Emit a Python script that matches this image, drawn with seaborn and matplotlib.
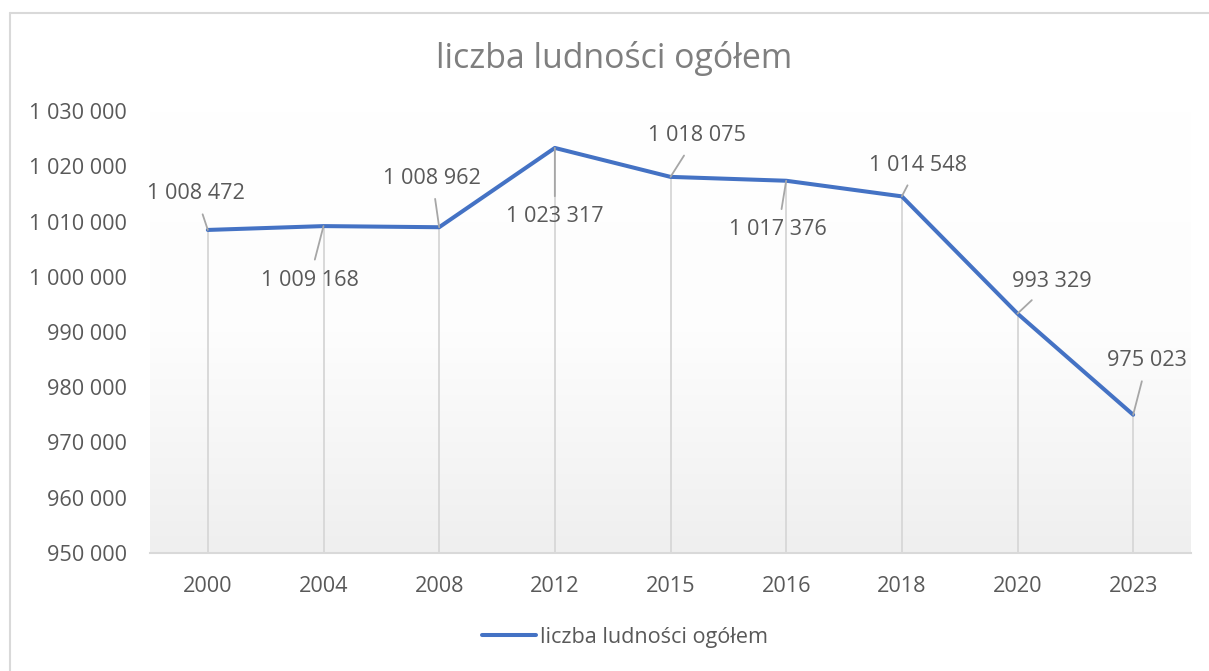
import numpy as np
import pandas as pd
import matplotlib
matplotlib.use("Agg")
import matplotlib.pyplot as plt
from matplotlib.lines import Line2D
from matplotlib.colors import LinearSegmentedColormap
import seaborn as sns

# ---- data ----
years = ["2000", "2004", "2008", "2012", "2015", "2016", "2018", "2020", "2023"]
population = [1008472, 1009168, 1008962, 1023317, 1018075, 1017376, 1014548, 993329, 975023]
series_name = "liczba ludności ogółem"
title = "liczba ludności ogółem"
y_ticks = [950000, 960000, 970000, 980000, 990000, 1000000, 1010000, 1020000, 1030000]

# label offsets in pixels (dx, dy up-positive)
label_offsets = [(-12, 36), (-14, -54), (-7, 49), (0, -69), (26, 41),
                 (-8, -49), (16, 31), (34, 32), (14, 54)]

sns.set_theme(style="white")
FONT = ["Open Sans", "DejaVu Sans"]
plt.rcParams["font.family"] = FONT

W, H, DPI = 1209, 671, 100
fig = plt.figure(figsize=(W / DPI, H / DPI), dpi=DPI)
fig.patch.set_facecolor("white")

ax_left, ax_right, ax_top, ax_bottom = 150, 1191, 111, 553
ax = fig.add_axes([ax_left / W, 1 - ax_bottom / H, (ax_right - ax_left) / W, (ax_bottom - ax_top) / H])

df = pd.DataFrame({"year": years, "value": population})

# gradient background (white at top -> light gray at bottom)
cmap = LinearSegmentedColormap.from_list("bg", ["#ffffff", "#fdfdfd", "#efefef"], N=256)
grad = np.linspace(0, 1, 256).reshape(-1, 1)
ax.imshow(grad, cmap=cmap, aspect="auto", extent=[0, 1, 0, 1], origin="upper",
          transform=ax.transAxes, zorder=0)

# drop lines
xs = np.arange(len(years))
ax.vlines(xs, y_ticks[0], population, colors="#d9d9d9", linewidth=1.4, zorder=1)

sns.lineplot(data=df, x="year", y="value", ax=ax, color="#4472C4",
             linewidth=2.9, label=series_name, zorder=3, sort=False)

ax.set_xlim(-0.5, len(years) - 0.5)
ax.set_ylim(y_ticks[0], y_ticks[-1])
ax.set_yticks(y_ticks)
ax.set_yticklabels([f"{v:,}".replace(",", " ") for v in y_ticks])
ax.set_xticks(xs)
ax.set_xticklabels(years)
ax.set_xlabel("")
ax.set_ylabel("")
ax.tick_params(axis="y", length=0, pad=16.5, labelsize=15.6, labelcolor="#595959")
ax.tick_params(axis="x", length=0, pad=16.5, labelsize=15.6, labelcolor="#595959")
for s in ["top", "right", "left"]:
    ax.spines[s].set_visible(False)
ax.spines["bottom"].set_color("#d9d9d9")
ax.spines["bottom"].set_linewidth(1.5)
ax.spines["bottom"].set_zorder(2)
ax.grid(False)

# data labels
px2pt = 72 / DPI
for x, v, (dx, dy) in zip(xs, population, label_offsets):
    ax.annotate(f"{v:,}".replace(",", " "), xy=(x, v),
                xytext=(dx * px2pt, dy * px2pt), textcoords="offset points",
                ha="center", va="center", fontsize=15.6, color="#595959",
                arrowprops=dict(arrowstyle="-", color="#a6a6a6", lw=1.3,
                                shrinkA=5, shrinkB=0), zorder=4)

# title
fig.text(614 / W, 1 - 58 / H, title, ha="center", va="center",
         fontsize=24.4, color="#7f7f7f")

# legend
leg = ax.legend(loc="center", bbox_to_anchor=(625 / W, 1 - 637 / H),
                bbox_transform=fig.transFigure, frameon=False, fontsize=15.6,
                handlelength=2.5, handletextpad=0.2, labelcolor="#595959")

# chart border (top & left)
fig.add_artist(Line2D([10 / W, 10 / W], [0, 1 - 13 / H], color="#d9d9d9", lw=1.5,
                      transform=fig.transFigure))
fig.add_artist(Line2D([10 / W, 1], [1 - 13 / H, 1 - 13 / H], color="#d9d9d9", lw=1.5,
                      transform=fig.transFigure))

fig.savefig("out.png", dpi=DPI)
